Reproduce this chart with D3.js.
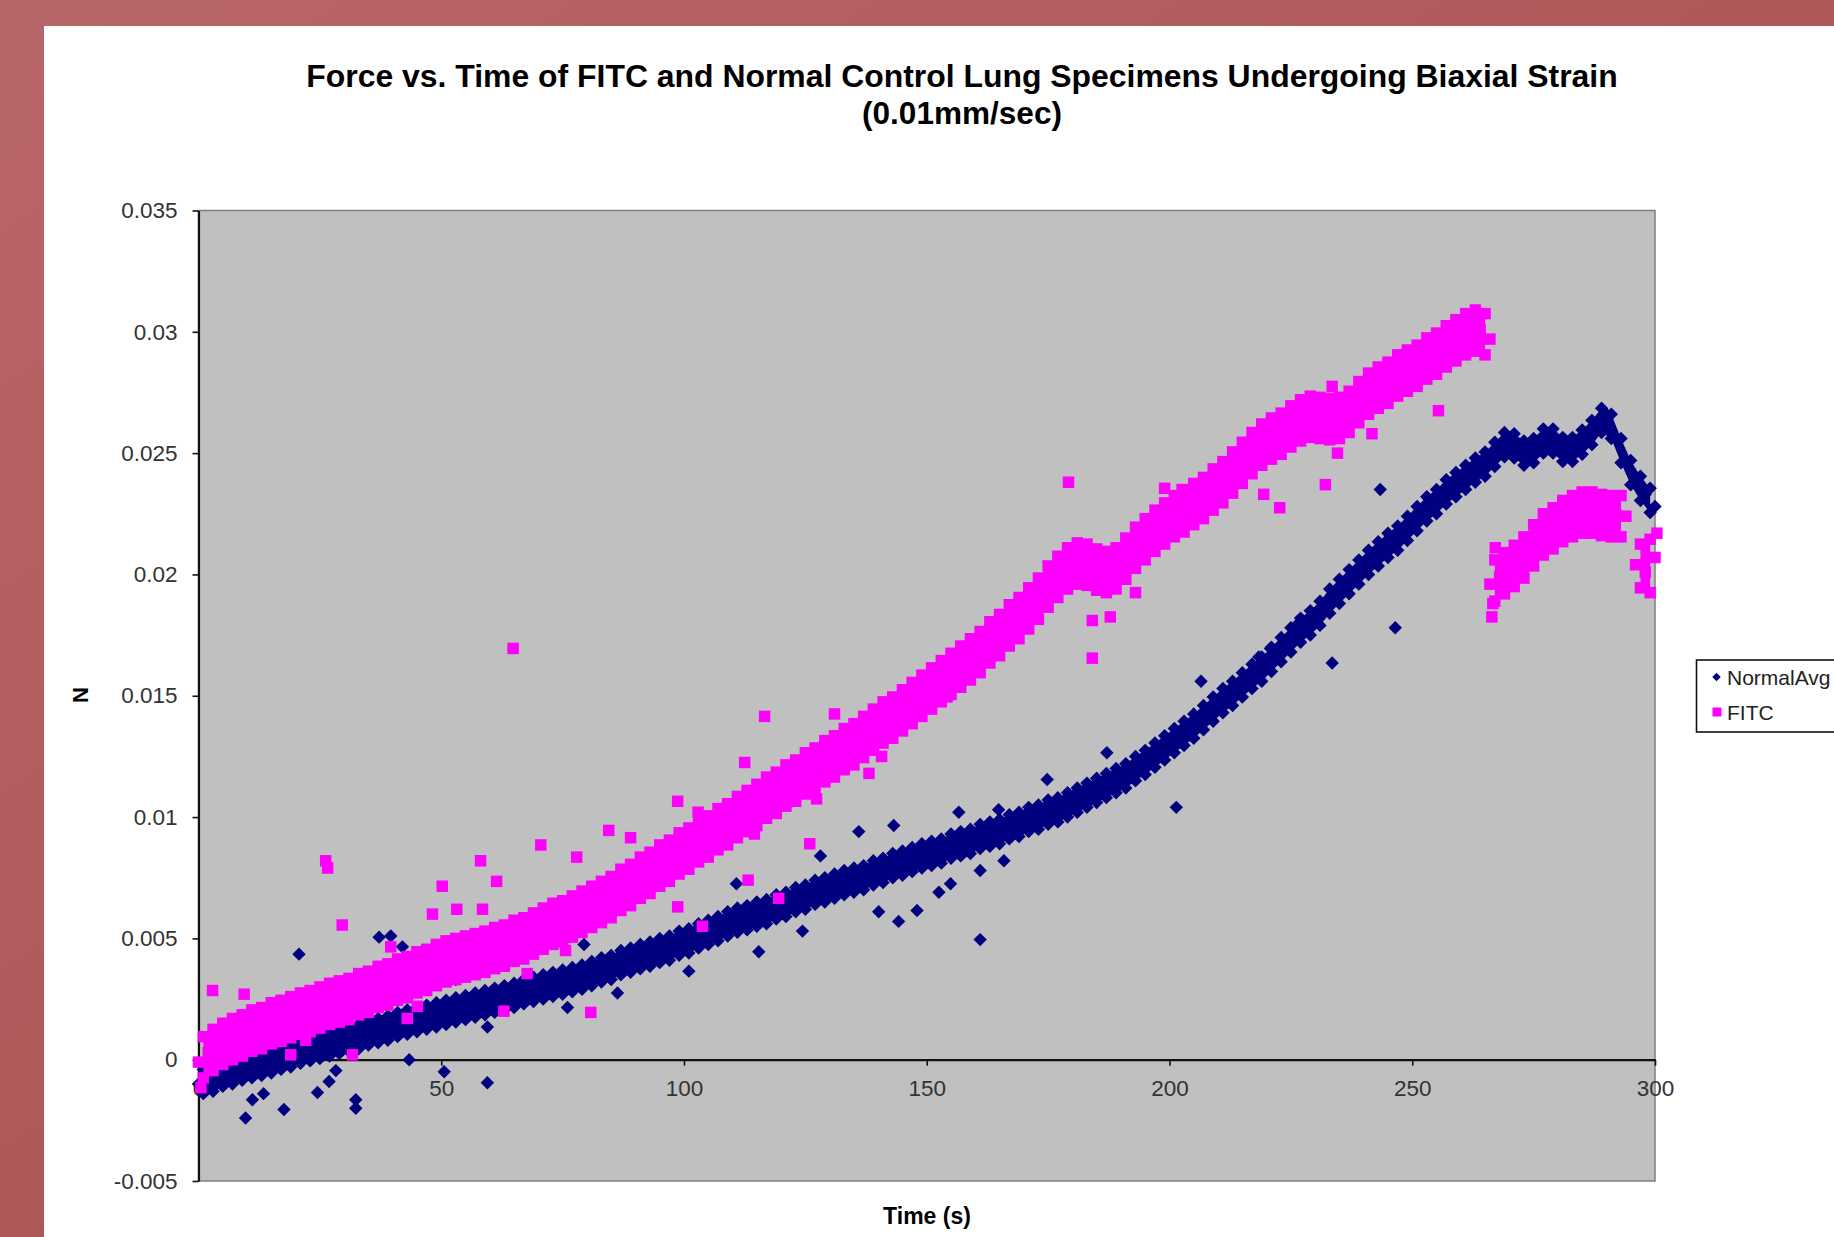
<!DOCTYPE html>
<html><head><meta charset="utf-8">
<script src="https://cdnjs.cloudflare.com/ajax/libs/d3/7.8.5/d3.min.js"></script>
<style>html,body{margin:0;padding:0;background:#fff;overflow:hidden}</style>
</head><body><svg id="chart" width="1834" height="1237"></svg>
<script>
// Values. Force values are in units of 1e-4 N.
const UNIT = 1e-4;
const seriesNames = ["NormalAvg", "FITC"];
const xTicks = [0, 50, 100, 150, 200, 250, 300];
const xTickLabels = ["0", "50", "100", "150", "200", "250", "300"];
const yTicks = [-0.005, 0, 0.005, 0.01, 0.015, 0.02, 0.025, 0.03, 0.035];
const yTickLabels = ["-0.005", "0", "0.005", "0.01", "0.015", "0.02", "0.025", "0.03", "0.035"];

// NormalAvg: band centre at even seconds, band upper / lower edge at odd seconds
const normalTimeEven = [0,2,4,6,8,10,12,14,16,18,20,22,24,26,28,30,32,34,36,38,40,42,44,46,48,50,52,54,56,58,60,62,64,66,68,70,72,74,76,78,80,82,84,86,88,90,92,94,96,98,100,102,104,106,108,110,112,114,116,118,120,122,124,126,128,130,132,134,136,138,140,142,144,146,148,150,152,154,156,158,160,162,164,166,168,170,172,174,176,178,180,182,184,186,188,190,192,194,196,198,200,202,204,206,208,210,212,214,216,218,220,222,224,226,228,230,232,234,236,238,240,242,244,246,248,250,252,254,256,258,260,262,264,266,268,270,272,274,276,278,280,282,284,286,288,290,292,294,296,298,300];
const normalMid = [-10,-8.5,-7,-5.5,-4,-3,-2,-1,0,1.5,
3,4,5,6,7,8,9,10,11.5,12.5,
14,15,16,17,18,19,20,21,22,23,
24,25,26,27,28.5,29.5,30.5,31.5,32.5,33.5,
35,36,37.5,39,40.5,42,43,44,45.5,47,
48.5,50,51.5,53.5,55,57,58,59,60.5,62,
63.5,65,66.5,68,69.5,71,72,73.5,74.5,76,
77.5,79,80.5,82,83,84.5,85.5,87,88.5,89.5,
91,92.5,93.5,95,96.5,98,99.5,101,102.5,104,
106,108,110,112,114,116,118.5,121,124,127,
130,133,136,139,143,146,149.5,153,156,159.5,
163,167,171,175,178.5,182,186.5,191,195,199,
203,207,210,213.5,217,221,225,228.5,232,235.5,
239,241.5,244,247,252,255,251,249,253,257,
253,250,253,256,261,266,256,246,238,233,
228];
const normalTimeOdd = [1,3,5,7,9,11,13,15,17,19,21,23,25,27,29,31,33,35,37,39,41,43,45,47,49,51,53,55,57,59,61,63,65,67,69,71,73,75,77,79,81,83,85,87,89,91,93,95,97,99,101,103,105,107,109,111,113,115,117,119,121,123,125,127,129,131,133,135,137,139,141,143,145,147,149,151,153,155,157,159,161,163,165,167,169,171,173,175,177,179,181,183,185,187,189,191,193,195,197,199,201,203,205,207,209,211,213,215,217,219,221,223,225,227,229,231,233,235,237,239,241,243,245,247,249,251,253,255,257,259,261,263,265,267,269,271,273,275,277,279,281,283,285,287,289,291,293,295,297,299];
const normalHigh = [-4,-3,-1,0,1.5,2.5,3.5,4.5,6,7,
8.5,9.5,10.5,11.5,12.5,13.5,14.5,16,17,18,
19.5,20.5,21.5,22.5,23.5,24.5,25.5,26.5,27.5,28.5,
29.5,30.5,31.5,33,34,35,36,37,38,39,
40.5,42,43,45,46,47.5,48.5,50,51,53,
54,56,57.5,59,61,62.5,63.5,65,66,68,
69,71,72,74,75,76.5,78,79,80,82,
83,85,86,87.5,89,90,91,93,94,95,
97,98,99,101,102,104,105,107,108,110,
112,114,116,118,120,122,125,127.5,130.5,133.5,
136.5,139.5,142.5,146,149.5,153,156,159.5,163,166,
170,174,178,182,185,189,194,198,202,206,
210,213.5,217,220,224,228,232,235,239,242,
245,248,250.5,254.5,258.5,258,255,256,260,260,
256.5,256.5,259.5,263.5,268.5,266,256,247,240.5,235.5];
const normalLow = [-14,-13,-11,-10,-8.5,-7.5,-6.5,-5.5,-4,-3,
-1.5,-0.5,0.5,1.5,2.5,3.5,4.5,6,7,8,
9.5,10.5,11.5,12.5,13.5,14.5,15.5,16.5,17.5,18.5,
19.5,20.5,21.5,23,24,25,26,27,28,29,
30.5,32,33,35,36,37.5,38.5,40,41,43,
44,46,47.5,49,51,52.5,53.5,55,56,58,
59,61,62,64,65,66.5,68,69,70,72,
73,75,76,77.5,79,80,81,83,84,85,
87,88,89,91,92,94,95,97,98,100,
102,104,106,108,110,112,115,117.5,120.5,123.5,
126.5,129.5,132.5,136,139.5,143,146,149.5,153,156,
160,164,168,172,175,179,184,188,192,196,
200,203.5,207,210,214,218,222,225,229,232,
235,238,240.5,244.5,248.5,248,245,246,250,250,
246.5,246.5,249.5,253.5,258.5,256,246,237,230.5,225.5];
// NormalAvg scattered points
const normalOutTime = [9.7,11.1,13.4,17.6,24.5,26.9,28.3,32.4,32.4,50.6,59.5,20.7,37.2,39.6,42,43.4,53,79.4,86.3,76,59.5,136,143.2,156.6,164.8,174.8,128.1,110.8,161,144.2,148,140.1,152.5,154.9,161,165.9,115.4,101,124.4,243.4,246.5,233.5,206.5,201.4,220.8,218.4,226.6,187.1];
const normalOutValue = [-24,-16.5,-14,-20.5,-13.5,-9,-4.5,-16.5,-20,-5,-9.5,43.5,50.5,51,46.5,0,33,47.5,27.5,21.5,13.5,94,96.5,102,103,115.5,84,72.5,49.5,57,61.5,61,69,72.5,78,82,44.5,36.5,53,235,178,163.5,156,104,169.5,166,180,126.5];

// FITC: three runs of recording
const fitcRunStarts = [0, 266, 296];
const fitcTimeEven = [0,2,4,6,8,10,12,14,16,18,20,22,24,26,28,30,32,34,36,38,40,42,44,46,48,50,52,54,56,58,60,62,64,66,68,70,72,74,76,78,80,82,84,86,88,90,92,94,96,98,100,102,104,106,108,110,112,114,116,118,120,122,124,126,128,130,132,134,136,138,140,142,144,146,148,150,152,154,156,158,160,162,164,166,168,170,172,174,176,178,180,182,184,186,188,190,192,194,196,198,200,202,204,206,208,210,212,214,216,218,220,222,224,226,228,230,232,234,236,238,240,242,244,246,248,250,252,254,256,258,260,262,264,266,
266,268,270,272,274,276,278,280,282,284,286,288,290,292,294,
296,298,300];
const fitcMid = [-1,3,5.5,7.5,9.5,11,12.5,14,15.5,17,
18,19.5,21,22,23.5,24.5,26,27.5,29,30.5,
32,33.5,35,36.5,38,40,41,42,43,44,
45,46.5,48,49.5,51,53,55,56.5,58,60,
62,64,66,68.5,71,73.5,76,78.5,81,83.5,
86,88.5,91,93.5,96,98.5,101,104,106.5,109,
111.5,114,116.5,119,121.5,124,126.5,129,131.5,134.5,
137.5,140,142.5,145.5,148.5,151.5,154.5,157.5,160.5,163.5,
166.5,170,173.5,177,180.5,184,188,192.5,197,201,
204,205,203,201,201,204,209,213,216,219.5,
222.5,225,227.5,230,233,236.5,240,244,248.5,252,
255,257,259.5,262.5,264.5,265,264,263.5,265.5,269,
273,276,278,280.5,283,285,287.5,290,292.5,295,
298,300,301,297,
196,199,202,205,209,215,218,220.5,223,225,226,225,224,224.5,224,
204,201,207];
const fitcTimeOdd = [1,3,5,7,9,11,13,15,17,19,21,23,25,27,29,31,33,35,37,39,41,43,45,47,49,51,53,55,57,59,61,63,65,67,69,71,73,75,77,79,81,83,85,87,89,91,93,95,97,99,101,103,105,107,109,111,113,115,117,119,121,123,125,127,129,131,133,135,137,139,141,143,145,147,149,151,153,155,157,159,161,163,165,167,169,171,173,175,177,179,181,183,185,187,189,191,193,195,197,199,201,203,205,207,209,211,213,215,217,219,221,223,225,227,229,231,233,235,237,239,241,243,245,247,249,251,253,255,257,259,261,263,265,
267,269,271,273,275,277,279,281,283,285,287,289,291,293,
297,299];
const fitcHigh = [9.5,12.5,15,17,18.5,20.5,21.5,23.5,24.5,26,
27.5,28.5,30,31.5,32.5,33.5,35.5,36.5,38.5,39.5,
41.5,42.5,44.5,45.5,47.5,49,50,51,52,53,
54.5,55.5,57.5,58.5,60.5,62.5,64.5,65.5,67.5,69.5,
71.5,73.5,75.5,78.5,80.5,83.5,85.5,88.5,90.5,93.5,
95.5,98.5,100.5,103.5,105.5,108.5,111,113.5,116.5,118.5,
121.5,123.5,126.5,128.5,131.5,133.5,136.5,138.5,141.5,144.5,
147.5,149.5,152.5,155.5,158.5,161.5,164.5,167.5,170.5,173.5,
176.5,180.5,183.5,187.5,190.5,194.5,198.5,203.5,207.5,211,
213,212.5,210.5,209.5,211,215,219.5,223,226.5,229.5,
232.5,234.5,237.5,240,243.5,246.5,250.5,254.5,258.5,262,
264.5,266.5,269.5,272,273.5,273,272.5,273,275.5,279.5,
283,285.5,287.5,290.5,292.5,294.5,297.5,299.5,302.5,305,
307.5,309,307.5,
206,209,212,215.5,220.5,225,227.5,230.5,232.5,234,234,233,232.5,232.5,
212.5,214.5];
const fitcLow = [-7.5,-4.5,-2,0,1.5,3.5,4.5,6.5,7.5,9,
10.5,11.5,13,14.5,15.5,16.5,18.5,19.5,21.5,22.5,
24.5,25.5,27.5,28.5,30.5,32,33,34,35,36,
37.5,38.5,40.5,41.5,43.5,45.5,47.5,48.5,50.5,52.5,
54.5,56.5,58.5,61.5,63.5,66.5,68.5,71.5,73.5,76.5,
78.5,81.5,83.5,86.5,88.5,91.5,94,96.5,99.5,101.5,
104.5,106.5,109.5,111.5,114.5,116.5,119.5,121.5,124.5,127.5,
130.5,132.5,135.5,138.5,141.5,144.5,147.5,150.5,153.5,156.5,
159.5,163.5,166.5,170.5,173.5,177.5,181.5,186.5,190.5,194,
196,195.5,193.5,192.5,194,198,202.5,206,209.5,212.5,
215.5,217.5,220.5,223,226.5,229.5,233.5,237.5,241.5,245,
247.5,249.5,252.5,255,256.5,256,255.5,256,258.5,262.5,
266,268.5,270.5,273.5,275.5,277.5,280.5,282.5,285.5,288,
290.5,292,290.5,
189,192,195,198.5,203.5,208,210.5,213.5,215.5,217,217,216,215.5,215.5,
194.5,192.5];
// FITC scattered points
const fitcOutTime = [2.9,9.4,26.2,26.6,29.6,50.2,48.2,53.2,58.5,58.1,61.4,70.5,77.9,89,84.5,80.8,75.6,67.7,62.9,43,45.1,31.7,19,22.1,0.5,39.6,64.8,98.7,102.9,112.5,116.6,131,125.9,113.2,119.5,98.7,103.8,127.3,138.1,140.7,114.5,154.2,179.2,199,219.4,222.7,232.1,241.7,234.6,184.1,187.8,184.1,193,233.5,255.4,202.6,266.4,266.6,267.1,300.4];
const fitcOutValue = [28.5,27,82,79,55.5,71.5,60,62,62,82,73.5,88.5,83.5,91.5,94.5,19.5,45,35.5,20,17,22,2,2,8,-11.5,46.5,169.5,106.5,102,122.5,141.5,142.5,89,74,66.5,63,55,107.5,118,125,93,149.5,238,235.5,233,227.5,237,258,250,181,182.5,165.5,192.5,277.5,267.5,235,182.5,188,211,217];

const seriesColors = ["#000080", "#ff00ff"];

// ---------- layout ----------
const W = 1834, H = 1237;
const plot = {left: 198.5, right: 1655, top: 210.5, bottom: 1181};
const FONT = "'Liberation Sans', Arial, Helvetica, sans-serif";

const svg = d3.select("#chart");
const defs = svg.append("defs");
const grad = defs.append("linearGradient").attr("id", "frame")
  .attr("x1", "0").attr("y1", "0").attr("x2", "1").attr("y2", "1");
grad.append("stop").attr("offset", "0").attr("stop-color", "#b9666a");
grad.append("stop").attr("offset", "1").attr("stop-color", "#a44a4a");
svg.append("rect").attr("width", W).attr("height", H).attr("fill", "url(#frame)");
svg.append("rect").attr("x", 44).attr("y", 26).attr("width", W - 44).attr("height", H - 26).attr("fill", "#ffffff");

const x = d3.scaleLinear().domain([0, 300]).range([plot.left, plot.right]);
const y = d3.scaleLinear().domain([-0.005, 0.035]).range([plot.bottom, plot.top]);

// plot area
svg.append("rect").attr("x", plot.left).attr("y", plot.top)
  .attr("width", plot.right - plot.left).attr("height", plot.bottom - plot.top)
  .attr("fill", "#c0c0c0").attr("stroke", "#7f7f7f").attr("stroke-width", 1.5);

// y axis
const yAxis = svg.append("g").attr("transform", `translate(${plot.left},0)`)
  .call(d3.axisLeft(y).tickValues(yTicks).tickFormat((d, i) => yTickLabels[i]).tickSize(6).tickSizeOuter(0).tickPadding(15));
// x axis crossing at y = 0
const xAxis = svg.append("g").attr("transform", `translate(0,${y(0)})`)
  .call(d3.axisBottom(x).tickValues(xTicks).tickFormat((d, i) => xTickLabels[i]).tickSize(6).tickSizeOuter(0).tickPadding(14));
[yAxis, xAxis].forEach(g => {
  g.select(".domain").attr("stroke", "#111").attr("stroke-width", 2.2);
  g.selectAll(".tick line").attr("stroke", "#111").attr("stroke-width", 1.6);
  g.selectAll(".tick text").attr("fill", "#333").style("font-family", FONT).style("font-size", "22.5px");
});

// ---------- data marks ----------
function zip(ts, vs) { return ts.map((t, i) => ({t: t, v: vs[i] * UNIT})); }
function bandRuns(ts, lo, hi, starts) {
  const runs = starts.map(() => []);
  ts.forEach((t, i) => {
    let r = 0;
    starts.forEach((s, k) => { if (t >= s) r = k; });
    runs[r].push({t: t, lo: lo[i] * UNIT, hi: hi[i] * UNIT});
  });
  return runs.filter(r => r.length > 1);
}
const band = d3.area().x(d => x(d.t)).y0(d => y(d.lo)).y1(d => y(d.hi));

const normalPts = [].concat(zip(normalTimeEven, normalMid), zip(normalTimeOdd, normalHigh),
                            zip(normalTimeOdd, normalLow), zip(normalOutTime, normalOutValue));
const fitcPts = [].concat(zip(fitcTimeEven, fitcMid), zip(fitcTimeOdd, fitcHigh),
                          zip(fitcTimeOdd, fitcLow), zip(fitcOutTime, fitcOutValue));

const diamond = d3.symbol().type(d3.symbolSquare).size(90)();
const square = d3.symbol().type(d3.symbolSquare).size(132)();

// NormalAvg
const gN = svg.append("g");
gN.selectAll("path.band").data(bandRuns(normalTimeOdd, normalLow, normalHigh, [0])).join("path")
  .attr("class", "band").attr("d", band).attr("fill", seriesColors[0]);
gN.selectAll("path.pt").data(normalPts).join("path").attr("class", "pt")
  .attr("d", diamond)
  .attr("transform", d => `translate(${x(d.t)},${y(d.v)}) rotate(45)`)
  .attr("fill", seriesColors[0]);
// FITC
const gF = svg.append("g");
gF.selectAll("path.band").data(bandRuns(fitcTimeOdd, fitcLow, fitcHigh, fitcRunStarts)).join("path")
  .attr("class", "band").attr("d", band).attr("fill", seriesColors[1]);
gF.selectAll("path.pt").data(fitcPts).join("path").attr("class", "pt")
  .attr("d", square)
  .attr("transform", d => `translate(${x(d.t)},${y(d.v)})`)
  .attr("fill", seriesColors[1]);

// title
const titleLines = ["Force vs. Time of FITC and Normal Control Lung Specimens Undergoing Biaxial Strain", "(0.01mm/sec)"];
const titleWidths = [1312, 200];
const titleBase = [87, 124];
titleLines.forEach((s, i) => {
  const t = svg.append("text").attr("x", 962).attr("y", titleBase[i]).attr("text-anchor", "middle")
    .style("font-family", FONT).style("font-weight", "bold").style("font-size", "31px")
    .attr("fill", "#000").text(s);
  const w = t.node().getComputedTextLength();
  if (w > 0) t.style("font-size", (31 * titleWidths[i] / w).toFixed(2) + "px");
});

// axis titles
svg.append("text").attr("transform", "translate(88,695) rotate(-90)").attr("text-anchor", "middle")
  .style("font-family", FONT).style("font-weight", "bold").style("font-size", "22px").attr("fill", "#000").text("N");
svg.append("text").attr("x", 927).attr("y", 1224).attr("text-anchor", "middle")
  .style("font-family", FONT).style("font-weight", "bold").style("font-size", "23px").attr("fill", "#000").text("Time (s)");

// legend
const lg = svg.append("g");
lg.append("rect").attr("x", 1696.5).attr("y", 660).attr("width", 200).attr("height", 72)
  .attr("fill", "#fff").attr("stroke", "#111").attr("stroke-width", 1.6);
lg.append("path").attr("d", d3.symbol().type(d3.symbolSquare).size(36)())
  .attr("transform", "translate(1716.5,677) rotate(45)").attr("fill", seriesColors[0]);
lg.append("path").attr("d", d3.symbol().type(d3.symbolSquare).size(81)())
  .attr("transform", "translate(1717,712)").attr("fill", seriesColors[1]);
lg.selectAll("text.lab").data(seriesNames).join("text").attr("class", "lab")
  .attr("x", 1727).attr("y", (d, i) => [685, 720][i])
  .style("font-family", FONT).style("font-size", "21px").attr("fill", "#222").text(d => d);
</script>
</body></html>
